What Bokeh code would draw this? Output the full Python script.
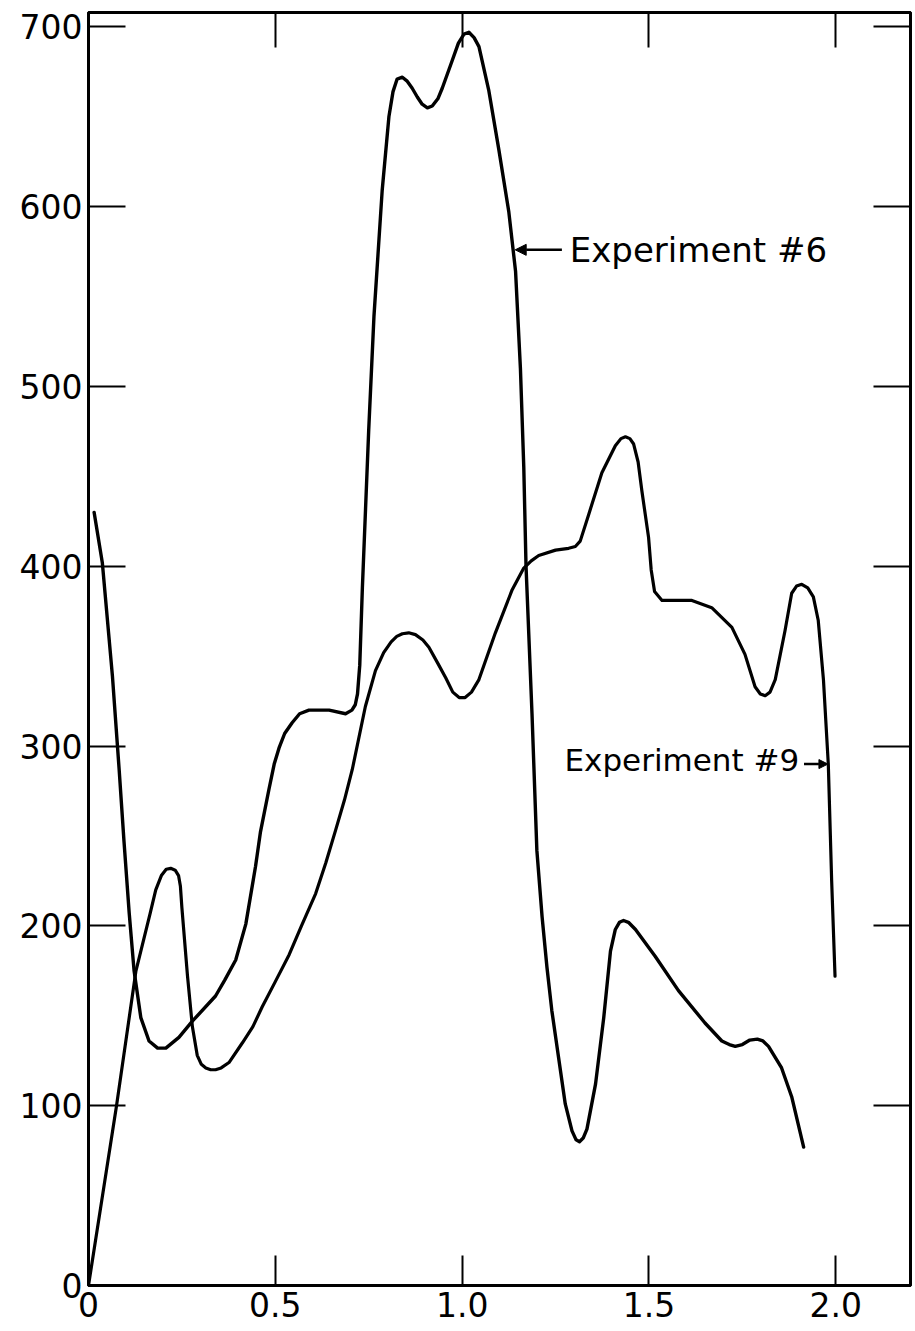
from bokeh.plotting import figure
from bokeh.models import LinearAxis, FixedTicker, Range1d, Arrow, NormalHead, Label
from bokeh.embed import file_html
from bokeh.resources import INLINE

# ---- data ----
exp6_x = [0.015, 0.037, 0.064, 0.082, 0.095, 0.109, 0.122, 0.14, 0.162, 0.185, 0.207, 0.242,
          0.278, 0.34, 0.365, 0.394, 0.421, 0.447, 0.46, 0.483, 0.497, 0.51, 0.525, 0.545,
          0.565, 0.59, 0.644, 0.688, 0.705,
          0.714, 0.72, 0.726, 0.733, 0.75, 0.764, 0.786, 0.804, 0.815, 0.826, 0.84, 0.852,
          0.866, 0.88, 0.893, 0.907, 0.92, 0.935, 0.947, 0.973, 0.99, 1.005, 1.018, 1.032,
          1.045, 1.071, 1.098, 1.125, 1.143, 1.156, 1.165, 1.171,
          1.187, 1.2, 1.214, 1.227, 1.24, 1.258, 1.276, 1.294, 1.305, 1.314, 1.324, 1.334,
          1.357, 1.379, 1.397, 1.41, 1.421, 1.432, 1.445, 1.464, 1.517, 1.579, 1.65, 1.695,
          1.715, 1.731, 1.75, 1.77, 1.79, 1.805, 1.82, 1.855, 1.882, 1.914]
exp6_y = [430, 402, 339, 287, 247, 207, 175, 149, 136, 132, 132, 138,
          147, 161, 170, 181, 201, 233, 252, 276, 290, 299, 307, 313,
          318, 320, 320, 318, 320,
          323, 329, 345, 388, 476, 539, 609, 650, 664, 671, 672, 670,
          666, 661, 657, 655, 656, 660, 666, 681, 691, 696, 697, 694,
          689, 665, 632, 597, 564, 510, 455, 400,
          318, 242, 205, 177, 153, 127, 101, 86, 81, 80, 82, 87,
          112, 149, 186, 198, 202, 203, 202, 198, 183, 164, 146, 136,
          134, 133, 134, 136.5, 137, 136, 133, 121, 105, 77]

exp9_x = [0.0, 0.075, 0.127, 0.165, 0.18, 0.195, 0.208, 0.22, 0.232, 0.241, 0.246, 0.25,
          0.265, 0.278, 0.291, 0.302, 0.314, 0.327, 0.34, 0.355, 0.376, 0.412, 0.44, 0.465,
          0.5, 0.537, 0.57, 0.608, 0.635, 0.661, 0.685, 0.706, 0.741, 0.768, 0.79, 0.81,
          0.825, 0.84, 0.857, 0.875, 0.895,
          0.911, 0.935, 0.956, 0.975, 0.992, 1.008, 1.025, 1.045, 1.089, 1.134, 1.165,
          1.185, 1.205, 1.25, 1.285, 1.303, 1.316, 1.339, 1.374, 1.41, 1.425, 1.437,
          1.449, 1.459, 1.471, 1.481, 1.499, 1.506, 1.515, 1.535, 1.615, 1.668,
          1.722, 1.757, 1.784, 1.798, 1.811, 1.824, 1.838, 1.864, 1.882, 1.895, 1.909, 1.925,
          1.94, 1.953, 1.967, 1.98, 1.989, 1.998]
exp9_y = [0, 100, 175, 207, 220, 228, 231.5, 232, 231, 228, 222, 210,
          172, 144, 128, 123, 121, 120, 120, 121, 124, 135, 144, 155,
          169, 184, 200, 218, 235, 253, 270, 287, 322, 342, 352, 358,
          361, 362.5, 363, 362, 359,
          355, 346, 338, 330, 327, 327, 330, 337, 363, 387, 399,
          403, 406, 409, 410, 411, 414, 429, 452, 467, 471, 472,
          471, 468, 458, 442, 416, 398, 386, 381, 381, 377,
          366, 351, 333, 329, 328, 330, 337, 364, 385, 389, 390, 388,
          383, 370, 337, 290, 225, 172]

x_ticks = [0, 0.5, 1.0, 1.5, 2.0]
x_tick_labels = ["0", "0.5", "1.0", "1.5", "2.0"]
y_ticks = [0, 100, 200, 300, 400, 500, 600, 700]
y_tick_labels = ["0", "100", "200", "300", "400", "500", "600", "700"]

label6 = "Experiment #6"
label9 = "Experiment #9"

FONT = "DejaVu Sans"

p = figure(width=912, height=1328,
           x_range=Range1d(0, 2.2), y_range=Range1d(0, 708),
           output_backend="svg", toolbar_location=None,
           min_border_left=88, min_border_right=2,
           min_border_top=12, min_border_bottom=43)

p.xgrid.visible = False
p.ygrid.visible = False
p.outline_line_color = "black"
p.outline_line_width = 3
p.background_fill_color = "white"
p.border_fill_color = "white"


def style_axis(ax, ticks, labels, tick_in, show_labels):
    ax.ticker = FixedTicker(ticks=ticks)
    ax.axis_line_color = "black"
    ax.axis_line_width = 3
    ax.major_tick_line_color = "black"
    ax.major_tick_line_width = 2
    ax.major_tick_in = tick_in
    ax.major_tick_out = 0
    ax.minor_tick_line_color = None
    if show_labels:
        ax.major_label_overrides = {t: l for t, l in zip(ticks, labels)}
        ax.major_label_text_font = FONT
        ax.major_label_text_font_size = "33px"
        ax.major_label_text_color = "black"
        ax.major_label_standoff = 6
    else:
        ax.major_label_text_font_size = "0px"
        ax.major_label_text_color = None
        ax.major_label_standoff = 0


style_axis(p.xaxis[0], x_ticks, x_tick_labels, 30, True)
style_axis(p.yaxis[0], y_ticks, y_tick_labels, 37, True)

top = LinearAxis()
style_axis(top, x_ticks[1:], x_tick_labels[1:], 35, False)
p.add_layout(top, "above")

right = LinearAxis()
style_axis(right, y_ticks[1:], y_tick_labels[1:], 37, False)
p.add_layout(right, "right")

p.line(exp6_x, exp6_y, line_color="black", line_width=3.4, line_join="round", line_cap="round")
p.line(exp9_x, exp9_y, line_color="black", line_width=3.2, line_join="round", line_cap="round")

# annotations
p.add_layout(Arrow(x_start=1.267, y_start=576, x_end=1.142, y_end=576,
                   line_color="black", line_width=2.5,
                   end=NormalHead(size=11, fill_color="black", line_color="black")))
p.add_layout(Label(x=1.288, y=576, text=label6, text_font=FONT, text_font_size="34px",
                   text_baseline="middle", text_align="left", text_color="black"))

p.add_layout(Arrow(x_start=1.915, y_start=290, x_end=1.979, y_end=290,
                   line_color="black", line_width=2.5,
                   end=NormalHead(size=9, fill_color="black", line_color="black")))
p.add_layout(Label(x=1.902, y=292, text=label9, text_font=FONT, text_font_size="31px",
                   text_baseline="middle", text_align="right", text_color="black"))

open("out.html", "w").write(file_html(p, INLINE))
